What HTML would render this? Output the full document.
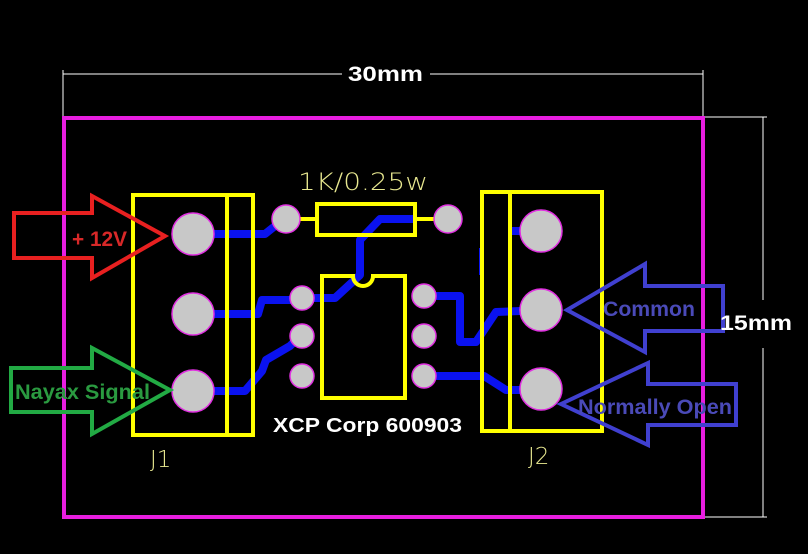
<!DOCTYPE html>
<html><head><style>body{margin:0;background:#000}svg{display:block}</style></head><body>
<svg width="808" height="554" xmlns="http://www.w3.org/2000/svg" font-family="Liberation Sans, sans-serif">
<rect width="808" height="554" fill="#000"/>
<g stroke="#fff" stroke-width="1">
<line x1="63" y1="74" x2="342" y2="74"/><line x1="430" y1="74" x2="703" y2="74"/>
<line x1="63" y1="70" x2="63" y2="117"/><line x1="703" y1="70" x2="703" y2="117"/>
<line x1="763" y1="117" x2="763" y2="300"/><line x1="763" y1="348" x2="763" y2="517"/>
<line x1="703" y1="117" x2="767" y2="117"/><line x1="703" y1="517" x2="767" y2="517"/>
</g>
<text x="348" y="81" fill="#fff" font-weight="bold" font-size="21" textLength="75" lengthAdjust="spacingAndGlyphs">30mm</text>
<rect x="64" y="118" width="639" height="399" fill="none" stroke="#e81ee0" stroke-width="4"/>
<g stroke="#0a12f0" stroke-width="8" fill="none" stroke-linejoin="round">
<polyline points="214,234 265,234 280,222"/>
<polyline points="214,314 258,314 262,300 302,300"/>
<polyline points="214,391 245,391 262,371 266,360 290,346 300,336"/>
<polyline points="414,219 380,219 360,240 360,275 335,298 302,298"/>
<polyline points="424,296 460,296 460,342 476,342 496,312 520,311"/>
<polyline points="424,376 484,376 506,390 520,390"/>
<polyline points="510,231 520,231"/>
<polyline points="481,248 481,275" stroke-width="4"/>
</g>
<g stroke="#ffff00" stroke-width="4" fill="none">
<rect x="133" y="195" width="120" height="240"/><line x1="227" y1="195" x2="227" y2="435"/>
<rect x="482" y="192" width="120" height="239"/><line x1="510" y1="192" x2="510" y2="431"/>
<rect x="317" y="204" width="98" height="31"/>
<line x1="300" y1="219" x2="317" y2="219"/><line x1="415" y1="219" x2="434" y2="219"/>
<path d="M322,276 H353 A10,10 0 0 0 373,276 H405 V398 H322 Z"/>
</g>
<g fill="#c8c8c8" stroke="#e030e0" stroke-width="1.5">
<circle cx="193" cy="234" r="21"/><circle cx="193" cy="314" r="21"/><circle cx="193" cy="391" r="21"/>
<circle cx="541" cy="231" r="21"/><circle cx="541" cy="310" r="21"/><circle cx="541" cy="389" r="21"/>
<circle cx="286" cy="219" r="14"/><circle cx="448" cy="219" r="14"/>
<circle cx="302" cy="298" r="12"/><circle cx="302" cy="336" r="12"/><circle cx="302" cy="376" r="12"/>
<circle cx="424" cy="296" r="12"/><circle cx="424" cy="336" r="12"/><circle cx="424" cy="376" r="12"/>
</g>
<g fill="#e8e890" style="font-family:'DejaVu Sans',sans-serif">
<text x="298" y="190" font-size="24" textLength="130" lengthAdjust="spacingAndGlyphs" font-weight="200">1K/0.25w</text>
<text x="150" y="467" font-size="23" font-weight="200">J1</text>
<text x="528" y="464" font-size="23" font-weight="200">J2</text>
</g>
<text x="273" y="432" fill="#fff" font-weight="bold" font-size="20" textLength="189" lengthAdjust="spacingAndGlyphs">XCP Corp 600903</text>
<path d="M14,213 H92 V196 L165,236 L92,278 V258 H14 Z" fill="none" stroke="#e82020" stroke-width="4"/>
<text x="72" y="246" fill="#d82828" font-weight="bold" font-size="21" textLength="55" lengthAdjust="spacingAndGlyphs">+ 12V</text>
<path d="M11,368 H92 V348 L170,390 L92,434 V412 H11 Z" fill="none" stroke="#22aa44" stroke-width="4"/>
<text x="15" y="399" fill="#2a9a40" font-weight="bold" font-size="21" textLength="135" lengthAdjust="spacingAndGlyphs">Nayax Signal</text>
<path d="M567,310 L645,264 V286 H723 V331 H645 V352 Z" fill="none" stroke="#4040d0" stroke-width="4"/>
<text x="603" y="316" fill="#4a4ab8" font-weight="bold" font-size="21" textLength="92" lengthAdjust="spacingAndGlyphs">Common</text>
<path d="M561,404 L648,363 V384 H736 V425 H648 V445 Z" fill="none" stroke="#4040d0" stroke-width="4"/>
<text x="578" y="414" fill="#4a4ab8" font-weight="bold" font-size="21" textLength="154" lengthAdjust="spacingAndGlyphs">Normally Open</text>
<text x="720" y="330" fill="#fff" font-weight="bold" font-size="21" textLength="72" lengthAdjust="spacingAndGlyphs">15mm</text>
</svg>
</body></html>
